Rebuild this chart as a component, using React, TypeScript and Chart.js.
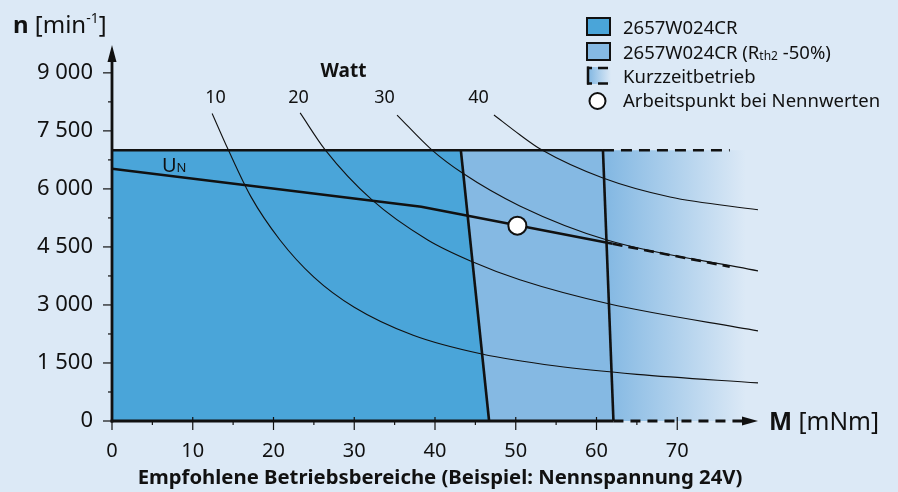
import React, { useEffect, useRef } from 'react';
import { Chart, registerables } from 'chart.js';

Chart.register(...registerables);

// ---------- data ----------
const X_TICKS = [0, 10, 20, 30, 40, 50, 60, 70];
const X_MINOR = [5, 15, 25, 35, 45, 55, 65];
const Y_TICKS = [0, 1500, 3000, 4500, 6000, 7500, 9000];
const Y_MINOR = [750, 2250, 3750, 5250, 6750, 8250];

const WATT_LABELS = ['10', '20', '30', '40'];

// power curves (M in mNm, n in min^-1)
const P10_M = [12.4, 14.4, 17.2, 20.8, 25, 30, 37.3, 45.8, 55, 65, 80];
const P10_N = [7950, 7010, 5800, 4680, 3720, 2940, 2215, 1730, 1420, 1205, 985];
const P20_M = [23.3, 26.4, 32.2, 39.1, 44.7, 50.5, 61.5, 80];
const P20_N = [7965, 7010, 5715, 4680, 4110, 3650, 3030, 2330];
const P30_M = [35.3, 39.6, 43.4, 50.5, 61.3, 80];
const P30_N = [7910, 7010, 6410, 5560, 4680, 3880];
const P40_M = [47.3, 50.5, 53.2, 60.8, 69.1, 80];
const P40_N = [7910, 7400, 7010, 6280, 5790, 5460];

// operating regions
const DARK_M = [0, 43.2, 46.7];
const DARK_N = [7000, 7000, 0];
const LIGHT_M = [0, 60.8, 62.1];
const LIGHT_N = [7000, 7000, 0];
const SHORT_M = [60.8, 80];
const SHORT_N = [7000, 7000];
const TOP_DASH_M = [60.8, 76.5];
const TOP_DASH_N = [7000, 7000];

// nominal voltage line
const UN_M = [0, 38.3, 62];
const UN_N = [6520, 5540, 4580];
const UN_DASH_M = [62, 76.5];
const UN_DASH_N = [4580, 3990];

// operating point at nominal values
const OP_M = [50.2];
const OP_N = [5050];

// ---------- styles ----------
const BG = '#dce9f6';
const DARK = '#4aa5d9';
const LIGHT = '#85b9e3';
const INK = '#111111';
const FONT = '"Noto Sans", "Open Sans", sans-serif';

const zip = (xs: number[], ys: number[]) => xs.map((x, i) => ({ x, y: ys[i] }));

const fmtN = (v: number) =>
  v >= 1000 ? `${Math.floor(v / 1000)} ${String(v % 1000).padStart(3, '0')}` : String(v);

function seg(ctx: CanvasRenderingContext2D, x1: number, y1: number, x2: number, y2: number) {
  ctx.beginPath();
  ctx.moveTo(x1, y1);
  ctx.lineTo(x2, y2);
  ctx.stroke();
}

function runs(ctx: CanvasRenderingContext2D, x: number, y: number, parts: [string, string, number][]) {
  let cx = x;
  for (const [t, f, dy] of parts) {
    ctx.font = f;
    ctx.fillText(t, cx, y + dy);
    cx += ctx.measureText(t).width;
  }
}

const bgPlugin = {
  id: 'bg',
  beforeDraw(chart: any) {
    const { ctx, width, height } = chart;
    ctx.save();
    ctx.fillStyle = BG;
    ctx.fillRect(0, 0, width, height);
    ctx.restore();
  },
};

const axesPlugin = {
  id: 'axes',
  afterDatasetsDraw(chart: any) {
    const { ctx, chartArea } = chart;
    const xs = chart.scales.x;
    const ys = chart.scales.y;
    const x0 = xs.getPixelForValue(0);
    const y0 = ys.getPixelForValue(0);
    ctx.save();
    ctx.strokeStyle = INK;
    ctx.fillStyle = INK;
    ctx.lineWidth = 1.2;
    for (const v of Y_TICKS) {
      const p = ys.getPixelForValue(v);
      seg(ctx, x0 - 9, p, x0, p);
    }
    for (const v of Y_MINOR) {
      const p = ys.getPixelForValue(v);
      seg(ctx, x0 - 4, p, x0, p);
    }
    for (const v of X_TICKS) {
      const p = xs.getPixelForValue(v);
      seg(ctx, p, y0 - 4, p, y0 + 9);
    }
    for (const v of X_MINOR) {
      const p = xs.getPixelForValue(v);
      seg(ctx, p, y0, p, y0 + 4);
    }
    // y axis with arrow
    const top = chartArea.top;
    ctx.lineWidth = 2.8;
    seg(ctx, x0, y0 + 1.4, x0, top + 12);
    ctx.beginPath();
    ctx.moveTo(x0, top);
    ctx.lineTo(x0 - 4.5, top + 17);
    ctx.lineTo(x0 + 4.5, top + 17);
    ctx.closePath();
    ctx.fill();
    // x axis: solid, then dashed, then arrow
    const right = chartArea.right;
    const xd = xs.getPixelForValue(LIGHT_M[2]);
    seg(ctx, x0 - 1.4, y0, xd, y0);
    ctx.setLineDash([10, 7]);
    seg(ctx, xd, y0, right - 14, y0);
    ctx.setLineDash([]);
    ctx.beginPath();
    ctx.moveTo(right, y0);
    ctx.lineTo(right - 16, y0 - 4.5);
    ctx.lineTo(right - 16, y0 + 4.5);
    ctx.closePath();
    ctx.fill();
    ctx.restore();
  },
};

const textPlugin = {
  id: 'texts',
  afterDraw(chart: any) {
    const { ctx } = chart;
    ctx.save();
    ctx.fillStyle = INK;
    ctx.textBaseline = 'alphabetic';
    ctx.textAlign = 'left';

    // axis titles
    runs(ctx, 13, 33, [
      ['n', `bold 24px ${FONT}`, 0],
      [' [min', `24px ${FONT}`, 0],
      ['-1', `14px ${FONT}`, -10],
      [']', `24px ${FONT}`, 0],
    ]);
    runs(ctx, 769, 430, [
      ['M', `bold 24.5px ${FONT}`, 0],
      [' [mNm]', `24.5px ${FONT}`, 0],
    ]);

    // U_N label
    runs(ctx, 162, 172, [
      ['U', `20px ${FONT}`, 0],
      ['N', `13px ${FONT}`, 0],
    ]);

    // Watt labels
    ctx.textAlign = 'center';
    ctx.font = `bold 19px ${FONT}`;
    ctx.fillText('Watt', 343.5, 77);
    ctx.font = `18px ${FONT}`;
    const wx = [215.5, 298.5, 384.5, 478.5];
    WATT_LABELS.forEach((t, i) => ctx.fillText(t, wx[i], 103));

    // bottom title
    ctx.font = `bold 20.3px ${FONT}`;
    ctx.fillText('Empfohlene Betriebsbereiche (Beispiel: Nennspannung 24V)', 440, 484);

    // legend
    ctx.textAlign = 'left';
    ctx.lineWidth = 2;
    ctx.strokeStyle = INK;
    ctx.fillStyle = DARK;
    ctx.fillRect(587, 18, 23, 17);
    ctx.strokeRect(587, 18, 23, 17);
    ctx.fillStyle = LIGHT;
    ctx.fillRect(587, 43, 23, 17);
    ctx.strokeRect(587, 43, 23, 17);

    const g = ctx.createLinearGradient(589, 0, 611, 0);
    g.addColorStop(0, LIGHT);
    g.addColorStop(1, BG);
    ctx.fillStyle = g;
    ctx.fillRect(589, 67, 22, 17);
    ctx.lineWidth = 2.5;
    seg(ctx, 588, 66.5, 588, 84.5);
    seg(ctx, 587, 68, 592, 68);
    seg(ctx, 587, 83.5, 592, 83.5);
    seg(ctx, 598, 68, 608, 68);
    seg(ctx, 598, 83.5, 608, 83.5);

    ctx.beginPath();
    ctx.arc(597.5, 101, 8, 0, Math.PI * 2);
    ctx.fillStyle = '#ffffff';
    ctx.fill();
    ctx.lineWidth = 2;
    ctx.stroke();

    ctx.fillStyle = INK;
    const lf = `18.5px ${FONT}`;
    ctx.font = lf;
    ctx.fillText('2657W024CR', 623, 34);
    runs(ctx, 623, 59, [
      ['2657W024CR (R', lf, 0],
      ['th2', `12px ${FONT}`, 1],
      [' -50%)', lf, 0],
    ]);
    ctx.font = lf;
    ctx.fillText('Kurzzeitbetrieb', 623, 83);
    ctx.fillText('Arbeitspunkt bei Nennwerten', 623, 107);
    ctx.restore();
  },
};

const thin = (m: number[], n: number[]) => ({
  data: zip(m, n),
  borderColor: INK,
  borderWidth: 1.1,
  pointRadius: 0,
  fill: false,
  cubicInterpolationMode: 'monotone' as const,
  order: 5,
});

const thick = (m: number[], n: number[], dash: number[] = []) => ({
  data: zip(m, n),
  borderColor: INK,
  borderWidth: 2.6,
  borderDash: dash,
  pointRadius: 0,
  fill: false,
  tension: 0,
  order: 3,
});

const area = (m: number[], n: number[], color: any, order: number) => ({
  data: zip(m, n),
  borderColor: 'rgba(0,0,0,0)',
  borderWidth: 0,
  pointRadius: 0,
  fill: 'origin',
  backgroundColor: color,
  tension: 0,
  order,
});

const shortGradient = (c: any) => {
  const chart = c.chart;
  const { chartArea } = chart;
  if (!chartArea) return LIGHT;
  const xs = chart.scales.x;
  const g = chart.ctx.createLinearGradient(xs.getPixelForValue(61.5), 0, xs.getPixelForValue(78.5), 0);
  g.addColorStop(0, LIGHT);
  g.addColorStop(1, BG);
  return g;
};

export default function App() {
  const ref = useRef<HTMLCanvasElement>(null);
  useEffect(() => {
    document.body.style.margin = '0';
    document.body.style.background = BG;
    const chart = new Chart(ref.current!, {
      type: 'line',
      data: {
        datasets: [
          area(SHORT_M, SHORT_N, shortGradient, 10),
          area(LIGHT_M, LIGHT_N, LIGHT, 9),
          area(DARK_M, DARK_N, DARK, 8),
          thin(P10_M, P10_N),
          thin(P20_M, P20_N),
          thin(P30_M, P30_N),
          thin(P40_M, P40_N),
          thick([DARK_M[0], LIGHT_M[1]], [DARK_N[0], LIGHT_N[1]]),
          thick(TOP_DASH_M, TOP_DASH_N, [11, 7]),
          thick(DARK_M.slice(1), DARK_N.slice(1)),
          thick(LIGHT_M.slice(1), LIGHT_N.slice(1)),
          thick(UN_M, UN_N),
          thick(UN_DASH_M, UN_DASH_N, [10, 6]),
          {
            data: zip(OP_M, OP_N),
            showLine: false,
            pointRadius: 9,
            pointBackgroundColor: '#ffffff',
            pointBorderColor: INK,
            pointBorderWidth: 2,
            order: 1,
          } as any,
        ] as any,
      },
      options: {
        animation: false,
        responsive: false,
        events: [],
        layout: { padding: { top: 45, right: 140, left: 0, bottom: 0 } },
        plugins: { legend: { display: false }, tooltip: { enabled: false } },
        scales: {
          x: {
            type: 'linear',
            min: 0,
            max: 80,
            grid: { display: false, drawTicks: false },
            border: { display: false },
            afterBuildTicks: (s: any) => {
              s.ticks = X_TICKS.map((v) => ({ value: v }));
            },
            afterFit: (s: any) => {
              s.height = 71;
            },
            ticks: {
              autoSkip: false,
              maxRotation: 0,
              padding: 18,
              color: INK,
              font: { family: FONT, size: 20 },
            },
          },
          y: {
            type: 'linear',
            min: 0,
            max: 9720,
            grid: { display: false, drawTicks: false },
            border: { display: false },
            afterBuildTicks: (s: any) => {
              s.ticks = Y_TICKS.map((v) => ({ value: v }));
            },
            afterFit: (s: any) => {
              s.width = 112;
            },
            ticks: {
              autoSkip: false,
              padding: 19,
              color: INK,
              font: { family: FONT, size: 22 },
              callback: (v: any) => fmtN(Number(v)),
            },
          },
        },
      } as any,
      plugins: [bgPlugin, axesPlugin, textPlugin],
    });
    return () => chart.destroy();
  }, []);
  return (
    <div style={{ width: 898, height: 492 }}>
      <canvas ref={ref} width={898} height={492} style={{ display: 'block', width: 898, height: 492 }} />
    </div>
  );
}
